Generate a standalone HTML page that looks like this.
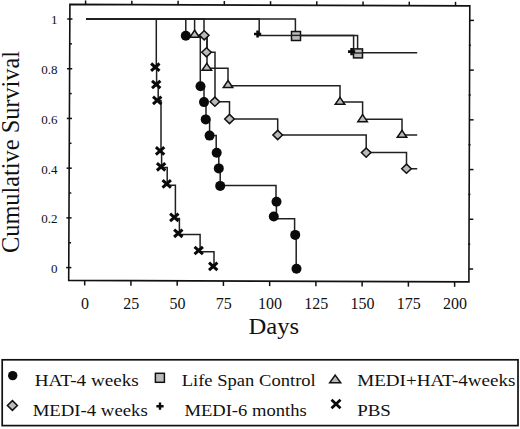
<!DOCTYPE html>
<html><head><meta charset="utf-8"><style>
html,body{margin:0;padding:0;background:#fff;}
svg{display:block;}
text{font-family:"Liberation Serif",serif;}
</style></head><body>
<svg width="520" height="429" viewBox="0 0 520 429">
<rect width="520" height="429" fill="#fff"/>
<polygon points="69.9,4.4 469.8,5.9 468.9,281.9 68.7,280.4" fill="none" stroke="#111" stroke-width="1.6" stroke-linejoin="miter"/>
<line x1="66.16" y1="267.60" x2="71.36" y2="267.60" stroke="#111" stroke-width="1.5"/>
<line x1="468.94" y1="269.00" x2="473.14" y2="269.00" stroke="#111" stroke-width="1.5"/>
<line x1="68.86" y1="242.74" x2="71.06" y2="242.74" stroke="#111" stroke-width="1.5"/>
<line x1="468.22" y1="244.14" x2="470.22" y2="244.14" stroke="#111" stroke-width="1.5"/>
<line x1="66.37" y1="217.88" x2="71.57" y2="217.88" stroke="#111" stroke-width="1.5"/>
<line x1="469.10" y1="219.28" x2="473.30" y2="219.28" stroke="#111" stroke-width="1.5"/>
<line x1="69.08" y1="193.02" x2="71.28" y2="193.02" stroke="#111" stroke-width="1.5"/>
<line x1="468.39" y1="194.42" x2="470.39" y2="194.42" stroke="#111" stroke-width="1.5"/>
<line x1="66.59" y1="168.16" x2="71.79" y2="168.16" stroke="#111" stroke-width="1.5"/>
<line x1="469.27" y1="169.56" x2="473.47" y2="169.56" stroke="#111" stroke-width="1.5"/>
<line x1="69.30" y1="143.30" x2="71.50" y2="143.30" stroke="#111" stroke-width="1.5"/>
<line x1="468.55" y1="144.70" x2="470.55" y2="144.70" stroke="#111" stroke-width="1.5"/>
<line x1="66.80" y1="118.44" x2="72.00" y2="118.44" stroke="#111" stroke-width="1.5"/>
<line x1="469.43" y1="119.84" x2="473.63" y2="119.84" stroke="#111" stroke-width="1.5"/>
<line x1="69.51" y1="93.58" x2="71.71" y2="93.58" stroke="#111" stroke-width="1.5"/>
<line x1="468.71" y1="94.98" x2="470.71" y2="94.98" stroke="#111" stroke-width="1.5"/>
<line x1="67.02" y1="68.72" x2="72.22" y2="68.72" stroke="#111" stroke-width="1.5"/>
<line x1="469.59" y1="70.12" x2="473.79" y2="70.12" stroke="#111" stroke-width="1.5"/>
<line x1="69.73" y1="43.86" x2="71.93" y2="43.86" stroke="#111" stroke-width="1.5"/>
<line x1="468.87" y1="45.26" x2="470.87" y2="45.26" stroke="#111" stroke-width="1.5"/>
<line x1="67.24" y1="19.00" x2="72.44" y2="19.00" stroke="#111" stroke-width="1.5"/>
<line x1="469.75" y1="20.40" x2="473.95" y2="20.40" stroke="#111" stroke-width="1.5"/>
<line x1="84.70" y1="280.46" x2="84.70" y2="285.46" stroke="#111" stroke-width="1.5"/>
<line x1="85.60" y1="4.46" x2="85.60" y2="0.46" stroke="#111" stroke-width="1.5"/>
<line x1="130.94" y1="280.63" x2="130.94" y2="285.63" stroke="#111" stroke-width="1.5"/>
<line x1="131.84" y1="4.63" x2="131.84" y2="0.63" stroke="#111" stroke-width="1.5"/>
<line x1="177.18" y1="280.81" x2="177.18" y2="285.81" stroke="#111" stroke-width="1.5"/>
<line x1="178.08" y1="4.81" x2="178.08" y2="0.81" stroke="#111" stroke-width="1.5"/>
<line x1="223.42" y1="280.98" x2="223.42" y2="285.98" stroke="#111" stroke-width="1.5"/>
<line x1="224.32" y1="4.98" x2="224.32" y2="0.98" stroke="#111" stroke-width="1.5"/>
<line x1="269.66" y1="281.15" x2="269.66" y2="286.15" stroke="#111" stroke-width="1.5"/>
<line x1="270.56" y1="5.15" x2="270.56" y2="1.15" stroke="#111" stroke-width="1.5"/>
<line x1="315.90" y1="281.33" x2="315.90" y2="286.33" stroke="#111" stroke-width="1.5"/>
<line x1="316.80" y1="5.33" x2="316.80" y2="1.33" stroke="#111" stroke-width="1.5"/>
<line x1="362.14" y1="281.50" x2="362.14" y2="286.50" stroke="#111" stroke-width="1.5"/>
<line x1="363.04" y1="5.50" x2="363.04" y2="1.50" stroke="#111" stroke-width="1.5"/>
<line x1="408.38" y1="281.67" x2="408.38" y2="286.67" stroke="#111" stroke-width="1.5"/>
<line x1="409.28" y1="5.67" x2="409.28" y2="1.67" stroke="#111" stroke-width="1.5"/>
<line x1="454.62" y1="281.85" x2="454.62" y2="286.85" stroke="#111" stroke-width="1.5"/>
<line x1="455.52" y1="5.85" x2="455.52" y2="1.85" stroke="#111" stroke-width="1.5"/>
<g font-family="Liberation Serif" font-size="16" text-anchor="middle" fill="#111">
<text x="85.00" y="309.4">0</text>
<text x="131.24" y="309.4">25</text>
<text x="177.48" y="309.4">50</text>
<text x="223.72" y="309.4">75</text>
<text x="269.96" y="309.4">100</text>
<text x="316.20" y="309.4">125</text>
<text x="362.44" y="309.4">150</text>
<text x="408.68" y="309.4">175</text>
<text x="454.92" y="309.4">200</text>
</g>
<g font-family="Liberation Serif" font-size="13" text-anchor="end" fill="#111">
<text x="57.5" y="273.00">0</text>
<text x="57.5" y="223.28">0.2</text>
<text x="57.5" y="173.56">0.4</text>
<text x="57.5" y="123.84">0.6</text>
<text x="57.5" y="74.12">0.8</text>
<text x="57.5" y="24.40">1</text>
</g>
<text x="248.4" y="333.5" font-family="Liberation Serif" font-size="23" fill="#111" textLength="50.7" lengthAdjust="spacingAndGlyphs">Days</text>
<text transform="translate(18.8,253) rotate(-90)" x="0" y="0" font-family="Liberation Serif" font-size="24.5" fill="#111" textLength="202.1" lengthAdjust="spacingAndGlyphs">Cumulative Survival</text>
<path d="M86.1,19.0 L295.4,19.0 L295.4,35.5 L357.6,35.5 L357.6,52.8 L417.2,52.8" fill="none" stroke="#202020" stroke-width="1.5" stroke-linejoin="miter"/>
<path d="M86.1,19.0 L259.2,19.0 L259.2,35.5 L353.6,35.5 L353.6,52.8 L360,52.8" fill="none" stroke="#202020" stroke-width="1.5" stroke-linejoin="miter"/>
<path d="M86.1,19.0 L156.3,19.0 L156.3,67.5 L156.6,67.5 L156.6,84.8 L158.2,84.8 L158.2,100.6 L161.0,100.6 L161.0,151.2 L161.6,151.2 L161.6,167.6 L167.2,167.6 L167.2,185.2 L175.4,185.2 L175.4,218.6 L179.4,218.6 L179.4,234.6 L200.1,234.6 L200.1,251.8 L214.0,251.8 L214.0,266.4" fill="none" stroke="#202020" stroke-width="1.5" stroke-linejoin="miter"/>
<path d="M86.1,19.0 L185.8,19.0 L185.8,36.0 L200.3,36.0 L200.3,86.3 L204.0,86.3 L204.0,102.1 L206.0,102.1 L206.0,119.2 L209.6,119.2 L209.6,135.6 L216.2,135.6 L216.2,152.6 L218.8,152.6 L218.8,168.4 L220.2,168.4 L220.2,185.6 L276.0,185.6 L276.0,201.8 L276.4,201.8 L276.4,218.7 L294.6,218.7 L294.6,234.9 L296.2,234.9 L296.2,268.5" fill="none" stroke="#202020" stroke-width="1.5" stroke-linejoin="miter"/>
<path d="M86.1,19.0 L194.6,19.0 L194.6,35.2 L207.0,35.2 L207.0,68.2 L228.0,68.2 L228.0,85.8 L340.0,85.8 L340.0,102.0 L362.6,102.0 L362.6,119.3 L402.0,119.3 L402.0,135.1 L417.2,135.1" fill="none" stroke="#202020" stroke-width="1.5" stroke-linejoin="miter"/>
<path d="M86.1,19.0 L204.0,19.0 L204.0,35.3 L207.0,35.3 L207.0,52.2 L215.0,52.2 L215.0,101.7 L229.5,101.7 L229.5,119.0 L277.7,119.0 L277.7,135.0 L366.2,135.0 L366.2,152.6 L406.5,152.6 L406.5,168.7 L417.2,168.7" fill="none" stroke="#202020" stroke-width="1.5" stroke-linejoin="miter"/>
<rect x="291.5" y="31.5" width="9.0" height="9.0" fill="#bababa" stroke="#111" stroke-width="1.5"/>
<rect x="353.5" y="48.9" width="9.0" height="9.0" fill="#bababa" stroke="#111" stroke-width="1.5"/>
<line x1="291" y1="35.4" x2="301" y2="35.4" stroke="#202020" stroke-width="1.4"/>
<line x1="353" y1="53.0" x2="363" y2="53.0" stroke="#202020" stroke-width="1.4"/>
<path d="M254.00000000000003,34.0 L261.20000000000005,34.0 M257.6,30.4 L257.6,37.6" stroke="#0a0a0a" stroke-width="2.6" fill="none"/>
<path d="M348.0,51.6 L355.20000000000005,51.6 M351.6,48.0 L351.6,55.2" stroke="#0a0a0a" stroke-width="2.6" fill="none"/>
<path d="M151.10000000000002,63.5 L159.5,70.9 M159.5,63.5 L151.10000000000002,70.9" stroke="#0a0a0a" stroke-width="3.0" fill="none"/>
<path d="M152.0,80.8 L160.39999999999998,88.2 M160.39999999999998,80.8 L152.0,88.2" stroke="#0a0a0a" stroke-width="3.0" fill="none"/>
<path d="M153.0,96.7 L161.39999999999998,104.10000000000001 M161.39999999999998,96.7 L153.0,104.10000000000001" stroke="#0a0a0a" stroke-width="3.0" fill="none"/>
<path d="M155.9,147.20000000000002 L164.29999999999998,154.6 M164.29999999999998,147.20000000000002 L155.9,154.6" stroke="#0a0a0a" stroke-width="3.0" fill="none"/>
<path d="M156.9,163.10000000000002 L165.29999999999998,170.5 M165.29999999999998,163.10000000000002 L156.9,170.5" stroke="#0a0a0a" stroke-width="3.0" fill="none"/>
<path d="M162.5,180.20000000000002 L170.89999999999998,187.6 M170.89999999999998,180.20000000000002 L162.5,187.6" stroke="#0a0a0a" stroke-width="3.0" fill="none"/>
<path d="M170.10000000000002,213.70000000000002 L178.5,221.1 M178.5,213.70000000000002 L170.10000000000002,221.1" stroke="#0a0a0a" stroke-width="3.0" fill="none"/>
<path d="M174.10000000000002,229.60000000000002 L182.5,237.0 M182.5,229.60000000000002 L174.10000000000002,237.0" stroke="#0a0a0a" stroke-width="3.0" fill="none"/>
<path d="M194.5,246.8 L202.89999999999998,254.2 M202.89999999999998,246.8 L194.5,254.2" stroke="#0a0a0a" stroke-width="3.0" fill="none"/>
<path d="M209.0,262.7 L217.39999999999998,270.09999999999997 M217.39999999999998,262.7 L209.0,270.09999999999997" stroke="#0a0a0a" stroke-width="3.0" fill="none"/>
<polygon points="194.6,30.23 199.35,37.23 189.85,37.23" fill="#bababa" stroke="#111" stroke-width="1.5" stroke-linejoin="miter"/>
<polygon points="206.8,63.33 211.55,70.33 202.05,70.33" fill="#bababa" stroke="#111" stroke-width="1.5" stroke-linejoin="miter"/>
<polygon points="228.0,80.53 232.75,87.53 223.25,87.53" fill="#bababa" stroke="#111" stroke-width="1.5" stroke-linejoin="miter"/>
<polygon points="340.0,97.33 344.75,104.33 335.25,104.33" fill="#bababa" stroke="#111" stroke-width="1.5" stroke-linejoin="miter"/>
<polygon points="362.6,114.63 367.35,121.63 357.85,121.63" fill="#bababa" stroke="#111" stroke-width="1.5" stroke-linejoin="miter"/>
<polygon points="402.0,130.33 406.75,137.33 397.25,137.33" fill="#bababa" stroke="#111" stroke-width="1.5" stroke-linejoin="miter"/>
<polygon points="204.2,30.699999999999996 209.0,35.3 204.2,39.9 199.39999999999998,35.3" fill="#bababa" stroke="#111" stroke-width="1.5"/>
<polygon points="206.5,47.699999999999996 211.3,52.3 206.5,56.9 201.7,52.3" fill="#bababa" stroke="#111" stroke-width="1.5"/>
<polygon points="214.9,97.10000000000001 219.70000000000002,101.7 214.9,106.3 210.1,101.7" fill="#bababa" stroke="#111" stroke-width="1.5"/>
<polygon points="229.5,114.4 234.3,119.0 229.5,123.6 224.7,119.0" fill="#bababa" stroke="#111" stroke-width="1.5"/>
<polygon points="277.7,130.4 282.5,135.0 277.7,139.6 272.9,135.0" fill="#bababa" stroke="#111" stroke-width="1.5"/>
<polygon points="366.2,148.0 371.0,152.6 366.2,157.2 361.4,152.6" fill="#bababa" stroke="#111" stroke-width="1.5"/>
<polygon points="406.5,164.1 411.3,168.7 406.5,173.29999999999998 401.7,168.7" fill="#bababa" stroke="#111" stroke-width="1.5"/>
<circle cx="185.8" cy="35.8" r="5.0" fill="#0a0a0a"/>
<circle cx="200.5" cy="86.3" r="5.0" fill="#0a0a0a"/>
<circle cx="204.0" cy="102.1" r="5.0" fill="#0a0a0a"/>
<circle cx="205.7" cy="119.4" r="5.0" fill="#0a0a0a"/>
<circle cx="209.6" cy="135.6" r="5.0" fill="#0a0a0a"/>
<circle cx="216.7" cy="152.7" r="5.0" fill="#0a0a0a"/>
<circle cx="218.8" cy="168.4" r="5.0" fill="#0a0a0a"/>
<circle cx="220.2" cy="185.9" r="5.0" fill="#0a0a0a"/>
<circle cx="276.5" cy="201.8" r="5.0" fill="#0a0a0a"/>
<circle cx="273.8" cy="216.5" r="5.0" fill="#0a0a0a"/>
<circle cx="295.2" cy="234.9" r="5.0" fill="#0a0a0a"/>
<circle cx="296.5" cy="268.7" r="5.0" fill="#0a0a0a"/>
<rect x="2.2" y="359.8" width="515.8" height="65.8" fill="none" stroke="#111" stroke-width="1.7"/>
<circle cx="12.7" cy="375.6" r="4.7" fill="#0a0a0a"/>
<rect x="155.4" y="373.3" width="9.0" height="9.0" fill="#bababa" stroke="#111" stroke-width="1.5"/>
<polygon points="335.2,375.13 340.70,382.73 329.70,382.73" fill="#bababa" stroke="#111" stroke-width="1.5" stroke-linejoin="miter"/>
<polygon points="12.4,400.6 17.4,405.5 12.4,410.4 7.4,405.5" fill="#bababa" stroke="#111" stroke-width="1.5"/>
<path d="M156.4,406.2 L163.6,406.2 M160.0,402.59999999999997 L160.0,409.8" stroke="#0a0a0a" stroke-width="2.4" fill="none"/>
<path d="M331.5,399.8 L340.5,408.2 M340.5,399.8 L331.5,408.2" stroke="#0a0a0a" stroke-width="2.8" fill="none"/>
<g font-family="Liberation Serif" font-size="17.6" fill="#111">
<text x="34.7" y="385.8" textLength="104.1" lengthAdjust="spacingAndGlyphs">HAT-4 weeks</text>
<text x="181.7" y="385.6" textLength="134.1" lengthAdjust="spacingAndGlyphs">Life Span Control</text>
<text x="357.2" y="386.4" textLength="158.3" lengthAdjust="spacingAndGlyphs">MEDI+HAT-4weeks</text>
<text x="32.7" y="415.5" textLength="115" lengthAdjust="spacingAndGlyphs">MEDI-4 weeks</text>
<text x="184.4" y="415.6" textLength="122.3" lengthAdjust="spacingAndGlyphs">MEDI-6 months</text>
<text x="357.2" y="415.8" textLength="33.7" lengthAdjust="spacingAndGlyphs">PBS</text>
</g>
</svg>
</body></html>
